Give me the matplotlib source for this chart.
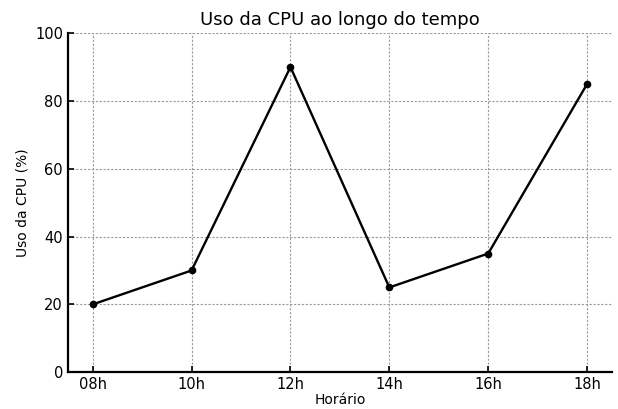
import numpy as np
import matplotlib
matplotlib.use("Agg")
import matplotlib.pyplot as plt

# data
horarios = ["08h", "10h", "12h", "14h", "16h", "18h"]
uso_cpu = [20, 30, 90, 25, 35, 85]

fig = plt.figure(figsize=(6.18, 4.09), dpi=100)
ax = fig.add_axes([0.110, 0.090, 0.880, 0.829])

x = np.arange(len(horarios))
ax.plot(x, uso_cpu, color="black", linewidth=1.7, marker="o", markersize=4.5)

ax.set_xticks(x)
ax.set_xticklabels(horarios)
ax.set_xlim(-0.25, 5.25)
ax.set_ylim(0, 100)
ax.set_yticks([0, 20, 40, 60, 80, 100])

ax.tick_params(axis="both", direction="in", labelsize=10.5, length=4, width=1.2)
ax.spines["top"].set_visible(False)
ax.spines["right"].set_visible(False)
ax.spines["left"].set_linewidth(1.6)
ax.spines["bottom"].set_linewidth(1.6)

ax.grid(True, color="#9a9a9a", linestyle=(0, (2, 1.5)), linewidth=0.8)

ax.set_title("Uso da CPU ao longo do tempo", fontsize=13)
ax.set_xlabel("Horário", fontsize=10, labelpad=1)
ax.set_ylabel("Uso da CPU (%)", fontsize=10)

plt.savefig("out.png", dpi=100)
